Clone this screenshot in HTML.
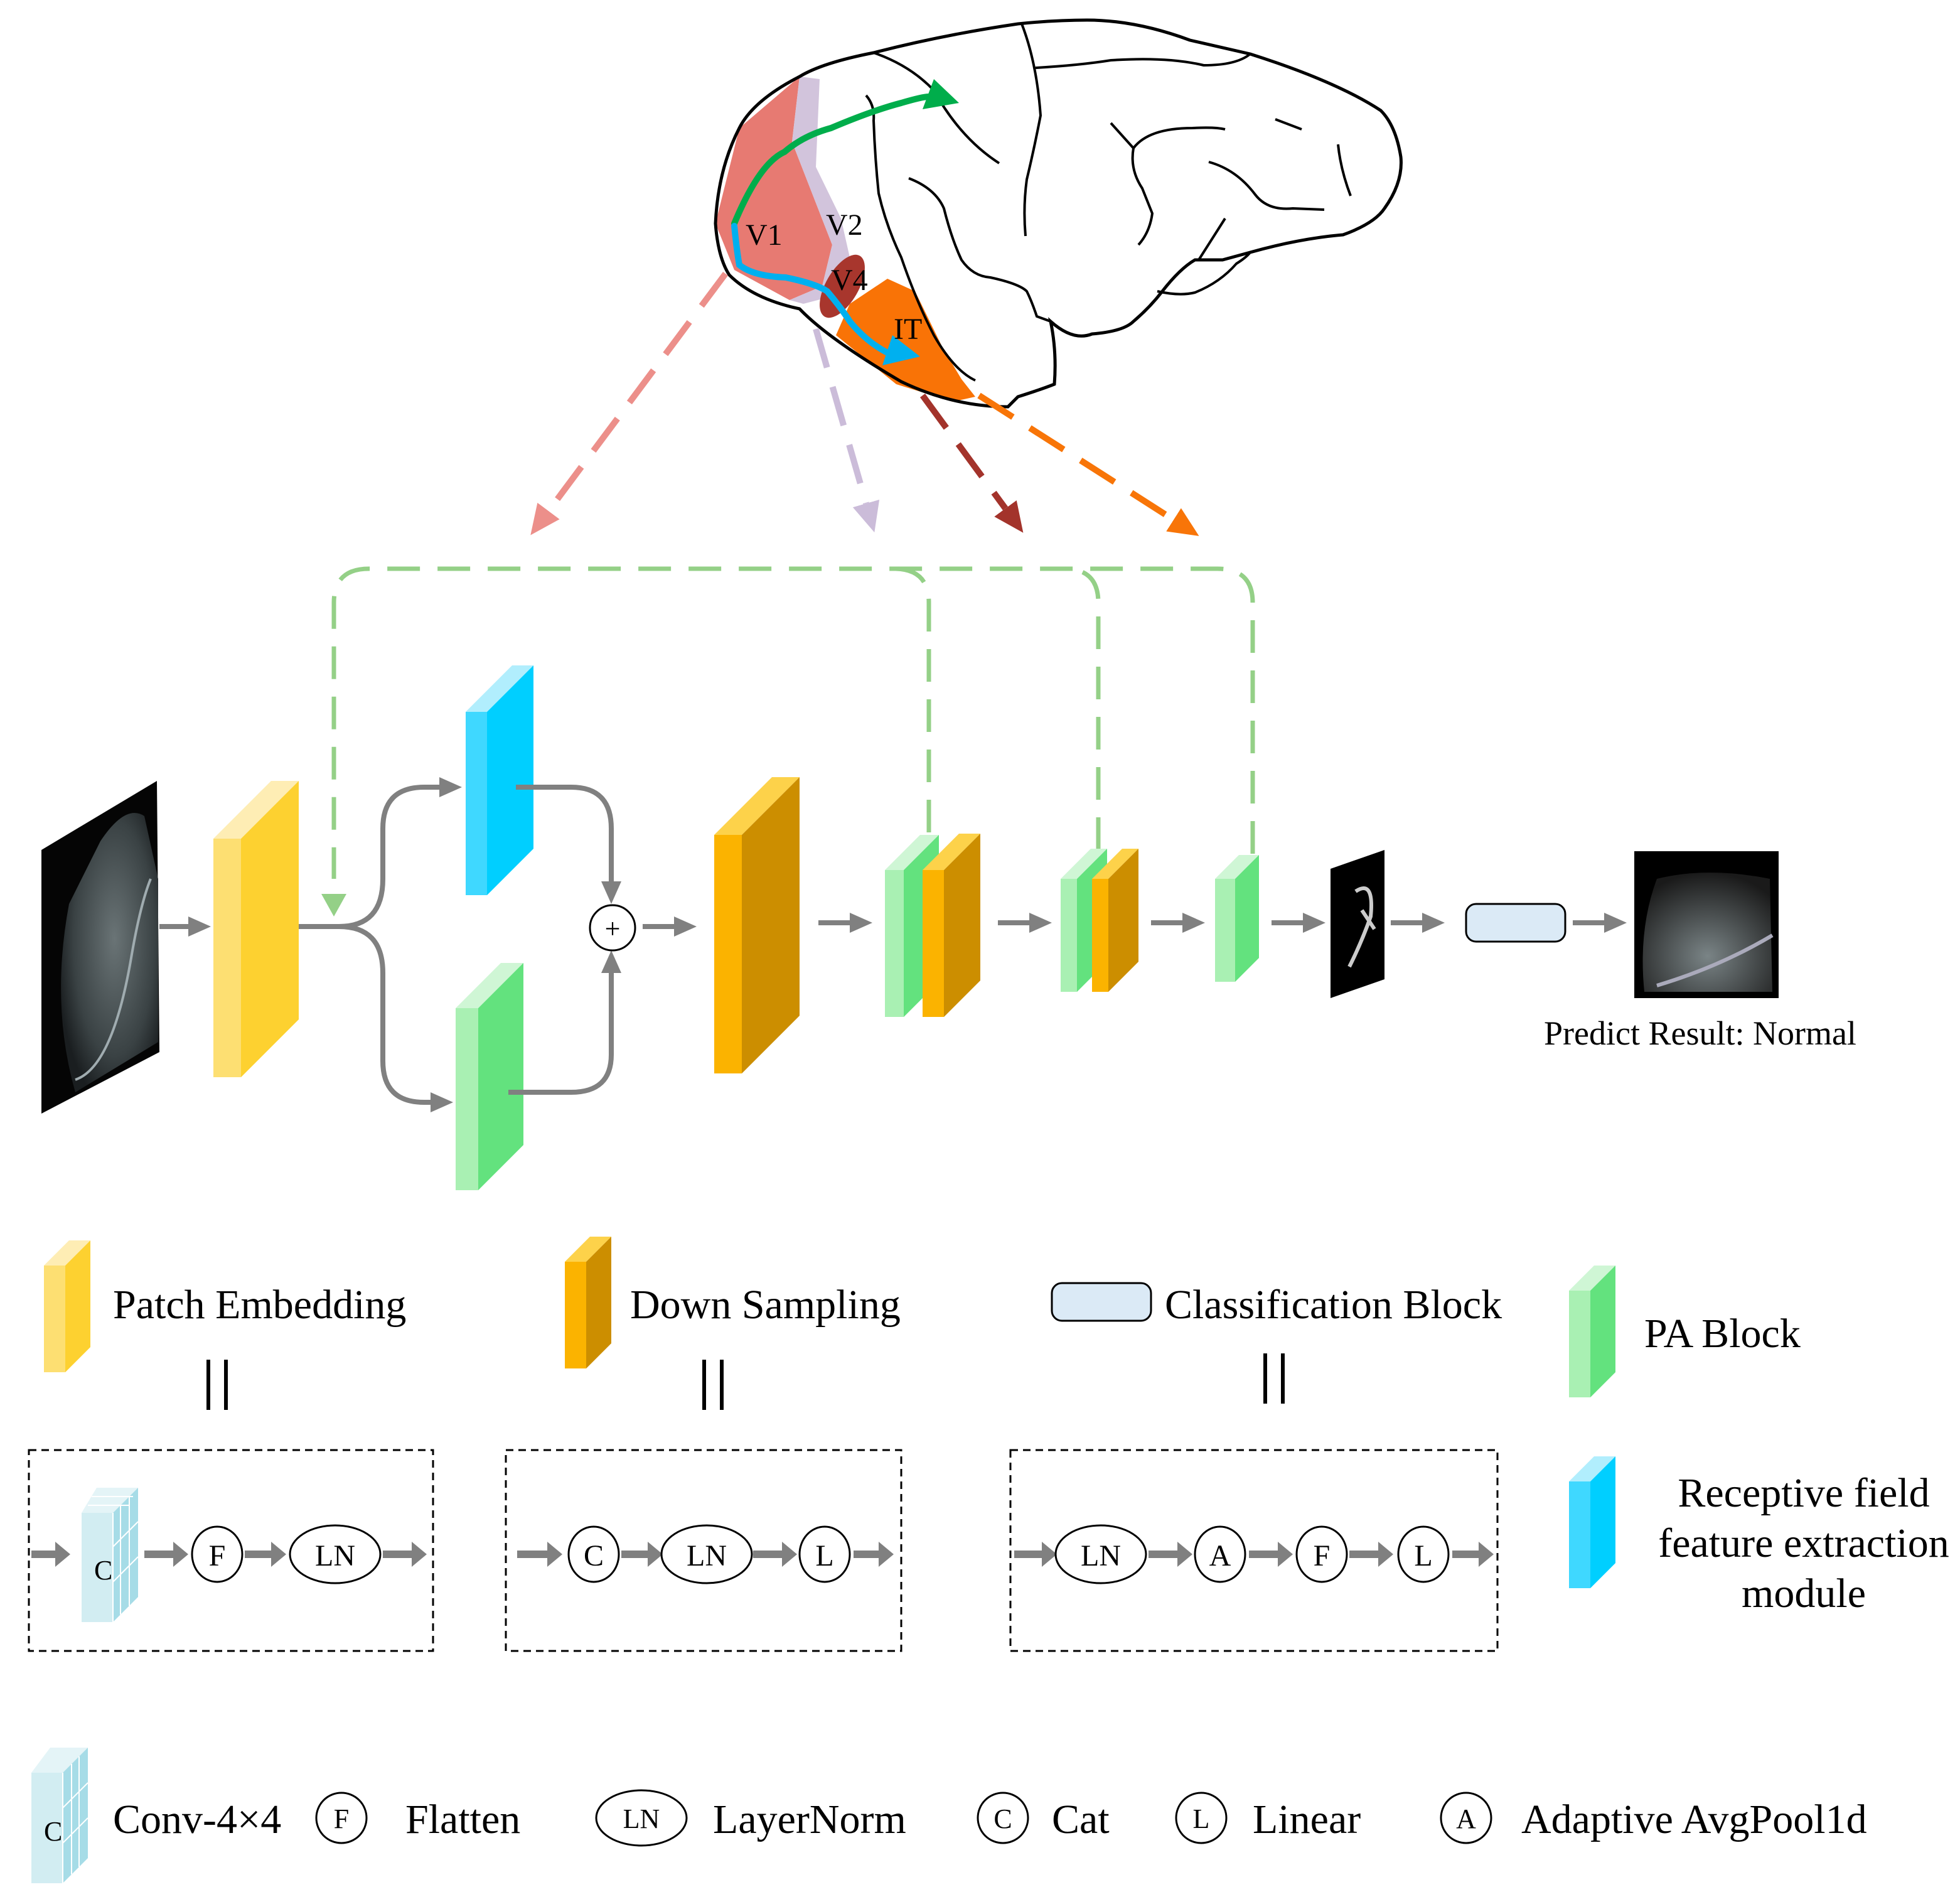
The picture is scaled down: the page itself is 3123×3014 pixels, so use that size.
<!DOCTYPE html>
<html><head><meta charset="utf-8"><style>html,body{margin:0;padding:0;background:#fff}svg{display:block}text{font-family:"Liberation Serif",serif;fill:#000}</style></head>
<body>
<svg width="3123" height="3014" viewBox="0 0 1561.5 1507" xmlns="http://www.w3.org/2000/svg">
<defs>
<marker id="ah" markerUnits="userSpaceOnUse" markerWidth="20" markerHeight="20" refX="0" refY="8" orient="auto"><path d="M0,0 L18,8 L0,16 z" fill="#808080"/></marker>
<marker id="fa" markerUnits="userSpaceOnUse" markerWidth="20" markerHeight="24" refX="0" refY="10" orient="auto"><path d="M0,0 L12,10 L0,20 z" fill="#808080"/></marker>
<marker id="pk" markerUnits="userSpaceOnUse" markerWidth="30" markerHeight="30" refX="0" refY="11" orient="auto"><path d="M0,0 L24,11 L0,22 z" fill="#ec8f8a"/></marker>
<marker id="lv" markerUnits="userSpaceOnUse" markerWidth="30" markerHeight="30" refX="0" refY="11" orient="auto"><path d="M0,0 L24,11 L0,22 z" fill="#cbbcd9"/></marker>
<marker id="dr" markerUnits="userSpaceOnUse" markerWidth="30" markerHeight="30" refX="0" refY="11" orient="auto"><path d="M0,0 L24,11 L0,22 z" fill="#a3332b"/></marker>
<marker id="or" markerUnits="userSpaceOnUse" markerWidth="30" markerHeight="30" refX="0" refY="11" orient="auto"><path d="M0,0 L24,11 L0,22 z" fill="#f87508"/></marker>
<radialGradient id="us" cx="0.55" cy="0.45" r="0.6"><stop offset="0" stop-color="#6a7476"/><stop offset="0.7" stop-color="#3a4244"/><stop offset="1" stop-color="#1a1e20"/></radialGradient>
<radialGradient id="us2" cx="0.5" cy="0.7" r="0.7"><stop offset="0" stop-color="#7a8486"/><stop offset="1" stop-color="#1a1a1a"/></radialGradient>
</defs>

<path d="M637,61 L631,113 L663,195 L655,228 L629,239 L585,215 L570,178 L589,102 Z" fill="#e77a72"/>
<path d="M637,61 L653,63 L650,133 L670,174 L677,205 L663,236 L640,242 L629,239 L655,228 L663,195 L631,113 Z" fill="#d2c4dc"/>
<ellipse cx="671" cy="228" rx="13" ry="28" transform="rotate(30 671 228)" fill="#a8362d"/>
<path d="M707,222 L729,232 L751,277 L766,302 L777,316 L759,320 L714,306 L666,267 L677,242 Z" fill="#f97306"/>
<path d="M570,178 Q572,205 581,219 Q600,238 637,246 Q660,270 718,304 Q760,324 803,324 L811,316 Q830,310 840,306 Q842,280 837,256 Q855,272 870,266 Q895,264 903,256 Q916,245 926,232 Q940,214 952,207 L974,207 L996,201 Q1035,190 1070,187 Q1095,178 1103,166 Q1118,145 1116,125 Q1112,100 1100,88 Q1065,65 996,43 L948,32 Q905,16 866,16 Q840,16 811,19 Q750,28 696,42 Q655,50 637,61 Q600,80 589,102 Q572,135 570,178 Z" fill="none" stroke="#000" stroke-width="2.5"/>
<g fill="none" stroke="#000" stroke-width="2">
<path d="M696,42 Q725,52 744,72 Q765,110 796,130"/>
<path d="M690,76 Q697,84 696,96 Q697,125 700,154 Q706,180 718,205 Q730,240 744,267 Q760,295 777,303"/>
<path d="M724,142 Q745,150 752,166 Q758,190 766,207 Q775,220 789,221 Q812,226 818,232 Q822,240 826,252 L837,256"/>
<path d="M814,19 Q826,50 829,92 Q824,118 818,143 Q815,165 817,188"/>
<path d="M825,54 Q860,52 885,48 Q930,45 959,52 Q985,52 996,43"/>
<path d="M885,98 L903,118 Q900,135 910,150 Q918,170 918,170 Q916,185 907,195"/>
<path d="M903,118 Q915,102 950,102 Q968,101 976,103"/>
<path d="M1016,95 L1037,103"/>
<path d="M1066,115 Q1068,135 1076,156"/>
<path d="M963,129 Q985,135 1000,155 Q1010,168 1030,166 L1055,167"/>
<path d="M976,174 L955,207"/>
<path d="M922,232 Q940,236 952,233 Q972,225 985,210 Q993,205 996,201"/>
</g>
<path d="M585,178 Q605,130 625,121 Q640,108 662,102 Q695,88 718,82 Q735,77 740,77" fill="none" stroke="#00ad4b" stroke-width="5" stroke-linecap="round"/>
<path d="M764,82 L744,63 L735,87 Z" fill="#00ad4b"/>
<path d="M585,180 Q587,200 589,211 Q600,220 626,221 Q650,226 659,232 Q670,245 677,256 Q690,272 707,281" fill="none" stroke="#00b0ef" stroke-width="5" stroke-linecap="round"/>
<path d="M733,284 L711,267 L703,291 Z" fill="#00b0ef"/>
<text x="594" y="195" font-size="24">V1</text>
<text x="658" y="187" font-size="24">V2</text>
<text x="662" y="231" font-size="24">V4</text>
<text x="712" y="270" font-size="24">IT</text>

<line x1="578" y1="218" x2="437" y2="407" stroke="#ec8f8a" stroke-width="5" stroke-dasharray="32,16" marker-end="url(#pk)"/>
<line x1="650" y1="262" x2="690" y2="401" stroke="#cbbcd9" stroke-width="5" stroke-dasharray="32,16" marker-end="url(#lv)"/>
<line x1="735" y1="315" x2="801" y2="405" stroke="#a3332b" stroke-width="5" stroke-dasharray="32,16" marker-end="url(#dr)"/>
<line x1="780" y1="315" x2="935" y2="414" stroke="#f87508" stroke-width="5" stroke-dasharray="32,16" marker-end="url(#or)"/>

<g fill="none" stroke="#94d087" stroke-width="3.5" stroke-dasharray="26,14">
<path d="M998,680 V480 Q998,453 970,453 H294 Q266,453 266,480 V700"/>
<path d="M740,663 V480 Q740,453 712,453"/>
<path d="M875,677 V480 Q875,453 848,453"/>
</g>
<path d="M256,712 L276,712 L266,730 Z" fill="#94d087"/>

<polygon points="33,677 125,622 127,838 33,887" fill="#050505"/>
<path d="M80,670 Q100,640 115,650 L126,700 L126,830 L60,870 Q40,800 55,720 Z" fill="url(#us)"/>
<path d="M60,860 Q90,850 105,760 Q112,720 120,700" stroke="#a0acb0" stroke-width="2" fill="none"/>

<g>
<rect x="170" y="668" width="22" height="190" fill="#fddf72"/><polygon points="170,668 216,622 238,622 192,668" fill="#feedb4"/><polygon points="192,668 238,622 238,812 192,858" fill="#fdd130"/>
<rect x="371" y="567" width="17" height="146" fill="#3fd8ff"/><polygon points="371,567 408,530 425,530 388,567" fill="#b1eefd"/><polygon points="388,567 425,530 425,676 388,713" fill="#00cfff"/>
<rect x="363" y="803" width="18" height="145" fill="#a9f0b3"/><polygon points="363,803 399,767 417,767 381,803" fill="#cff6d5"/><polygon points="381,803 417,767 417,912 381,948" fill="#63e27e"/>
<rect x="569" y="665" width="22" height="190" fill="#fbb300"/><polygon points="569,665 615,619 637,619 591,665" fill="#fdd24a"/><polygon points="591,665 637,619 637,809 591,855" fill="#cc8e00"/>
<rect x="705" y="693" width="15" height="117" fill="#a9f0b3"/><polygon points="705,693 733,665 748,665 720,693" fill="#cff6d5"/><polygon points="720,693 748,665 748,782 720,810" fill="#63e27e"/>
<rect x="735" y="693" width="17" height="117" fill="#fbb300"/><polygon points="735,693 764,664 781,664 752,693" fill="#fdd24a"/><polygon points="752,693 781,664 781,781 752,810" fill="#cc8e00"/>
<rect x="845" y="700" width="13" height="90" fill="#a9f0b3"/><polygon points="845,700 869,676 882,676 858,700" fill="#cff6d5"/><polygon points="858,700 882,676 882,766 858,790" fill="#63e27e"/>
<rect x="870" y="700" width="13" height="90" fill="#fbb300"/><polygon points="870,700 894,676 907,676 883,700" fill="#fdd24a"/><polygon points="883,700 907,676 907,766 883,790" fill="#cc8e00"/>
<rect x="968" y="700" width="16" height="82" fill="#a9f0b3"/><polygon points="968,700 987,681 1003,681 984,700" fill="#cff6d5"/><polygon points="984,700 1003,681 1003,763 984,782" fill="#63e27e"/>
</g>
<polygon points="1060,692 1103,677 1103,780 1060,795" fill="#000"/>
<path d="M1080,710 Q1095,700 1092,730 Q1085,750 1075,770 M1085,725 L1095,740" stroke="#ccc" stroke-width="3" fill="none"/>
<rect x="1168" y="720" width="79" height="30" rx="8" fill="#dbeaf6" stroke="#000" stroke-width="1.5"/>
<rect x="1302" y="678" width="115" height="117" fill="#000"/>
<path d="M1320,700 Q1360,690 1410,700 L1412,790 L1310,790 Q1305,740 1320,700 Z" fill="url(#us2)"/>
<path d="M1320,785 Q1370,770 1412,745" stroke="#aab" stroke-width="3" fill="none"/>
<text x="1230" y="832" font-size="27">Predict Result: Normal</text>

<g stroke="#808080" stroke-width="4" fill="none">
<line x1="127" y1="738" x2="150" y2="738" marker-end="url(#ah)"/>
<path d="M238,738 H270 Q305,738 305,700 V660 Q305,627 338,627 H350" marker-end="url(#ah)"/>
<path d="M270,738 Q305,738 305,775 V845 Q305,878 338,878 H343" marker-end="url(#ah)"/>
<path d="M411,627 H455 Q487,627 487,660 V702" marker-end="url(#ah)"/>
<path d="M405,870 H455 Q487,870 487,840 V775" marker-end="url(#ah)"/>
<line x1="512" y1="738" x2="537" y2="738" marker-end="url(#ah)"/>
<line x1="652" y1="735" x2="677" y2="735" marker-end="url(#ah)"/>
<line x1="795" y1="735" x2="820" y2="735" marker-end="url(#ah)"/>
<line x1="917" y1="735" x2="942" y2="735" marker-end="url(#ah)"/>
<line x1="1013" y1="735" x2="1038" y2="735" marker-end="url(#ah)"/>
<line x1="1108" y1="735" x2="1133" y2="735" marker-end="url(#ah)"/>
<line x1="1253" y1="735" x2="1278" y2="735" marker-end="url(#ah)"/>
</g>
<circle cx="488" cy="739" r="18" fill="#fff" stroke="#000" stroke-width="1.5"/>
<text x="488" y="747" font-size="22" text-anchor="middle">+</text>

<rect x="35" y="1008" width="17" height="85" fill="#fddf72"/><polygon points="35,1008 55,988 72,988 52,1008" fill="#feedb4"/><polygon points="52,1008 72,988 72,1073 52,1093" fill="#fdd130"/>
<text x="90" y="1050" font-size="33">Patch Embedding</text>
<rect x="450" y="1005" width="17" height="85" fill="#fbb300"/><polygon points="450,1005 470,985 487,985 467,1005" fill="#fdd24a"/><polygon points="467,1005 487,985 487,1070 467,1090" fill="#cc8e00"/>
<text x="502" y="1050" font-size="33">Down Sampling</text>
<rect x="838" y="1022" width="79" height="30" rx="8" fill="#dbeaf6" stroke="#000" stroke-width="1.5"/>
<text x="928" y="1050" font-size="33">Classification Block</text>
<rect x="1250" y="1028" width="17" height="85" fill="#a9f0b3"/><polygon points="1250,1028 1270,1008 1287,1008 1267,1028" fill="#cff6d5"/><polygon points="1267,1028 1287,1008 1287,1093 1267,1113" fill="#63e27e"/>
<text x="1310" y="1073" font-size="33">PA Block</text>
<rect x="1250" y="1180" width="17" height="85" fill="#3fd8ff"/><polygon points="1250,1180 1270,1160 1287,1160 1267,1180" fill="#b1eefd"/><polygon points="1267,1180 1287,1160 1287,1245 1267,1265" fill="#00cfff"/>
<g font-size="33" text-anchor="middle"><text x="1437" y="1200">Receptive field</text><text x="1437" y="1240">feature extraction</text><text x="1437" y="1280">module</text></g>
<g stroke="#000" stroke-width="3"><line x1="166" y1="1083" x2="166" y2="1123"/><line x1="180" y1="1083" x2="180" y2="1123"/><line x1="561" y1="1083" x2="561" y2="1123"/><line x1="575" y1="1083" x2="575" y2="1123"/><line x1="1008" y1="1078" x2="1008" y2="1118"/><line x1="1022" y1="1078" x2="1022" y2="1118"/></g>

<g fill="none" stroke="#000" stroke-width="1.5" stroke-dasharray="6,4">
<rect x="23" y="1155" width="322" height="160"/><rect x="403" y="1155" width="315" height="160"/><rect x="805" y="1155" width="388" height="160"/>
</g>
<g>
<rect x="65" y="1205" width="25" height="87" fill="#d2edf2"/><polygon points="65,1205 77,1185 110,1185 90,1205" fill="#e4f4f7"/><polygon points="90,1205 110,1185 110,1272 90,1292" fill="#a6dce7"/>
<g stroke="#fff" stroke-width="1"><line x1="90" y1="1205" x2="90" y2="1292"/><line x1="96" y1="1199" x2="96" y2="1286"/><line x1="103" y1="1192" x2="103" y2="1279"/><line x1="90" y1="1232" x2="110" y2="1212"/><line x1="90" y1="1260" x2="110" y2="1240"/><line x1="70" y1="1199" x2="103" y2="1199"/><line x1="73" y1="1192" x2="106" y2="1192"/></g>
<text x="75" y="1258" font-size="22">C</text>
</g>
<g stroke="#808080" stroke-width="6">
<line x1="25" y1="1238" x2="44" y2="1238" marker-end="url(#fa)"/>
<line x1="115" y1="1238" x2="138" y2="1238" marker-end="url(#fa)"/>
<line x1="195" y1="1238" x2="216" y2="1238" marker-end="url(#fa)"/>
<line x1="305" y1="1238" x2="328" y2="1238" marker-end="url(#fa)"/>
<line x1="412" y1="1238" x2="436" y2="1238" marker-end="url(#fa)"/>
<line x1="495" y1="1238" x2="516" y2="1238" marker-end="url(#fa)"/>
<line x1="600" y1="1238" x2="623" y2="1238" marker-end="url(#fa)"/>
<line x1="680" y1="1238" x2="700" y2="1238" marker-end="url(#fa)"/>
<line x1="808" y1="1238" x2="830" y2="1238" marker-end="url(#fa)"/>
<line x1="915" y1="1238" x2="938" y2="1238" marker-end="url(#fa)"/>
<line x1="995" y1="1238" x2="1018" y2="1238" marker-end="url(#fa)"/>
<line x1="1075" y1="1238" x2="1098" y2="1238" marker-end="url(#fa)"/>
<line x1="1157" y1="1238" x2="1178" y2="1238" marker-end="url(#fa)"/>
</g>
<g fill="#fff" stroke="#000" stroke-width="1.5">
<ellipse cx="173" cy="1238" rx="20" ry="22"/><ellipse cx="267" cy="1238" rx="36" ry="23"/>
<ellipse cx="473" cy="1238" rx="20" ry="22"/><ellipse cx="563" cy="1238" rx="36" ry="23"/><ellipse cx="657" cy="1238" rx="20" ry="22"/>
<ellipse cx="877" cy="1238" rx="36" ry="23"/><ellipse cx="972" cy="1238" rx="20" ry="22"/><ellipse cx="1053" cy="1238" rx="20" ry="22"/><ellipse cx="1134" cy="1238" rx="20" ry="22"/>
</g>
<g font-size="24" text-anchor="middle">
<text x="173" y="1247">F</text><text x="267" y="1247">LN</text>
<text x="473" y="1247">C</text><text x="563" y="1247">LN</text><text x="657" y="1247">L</text>
<text x="877" y="1247">LN</text><text x="972" y="1247">A</text><text x="1053" y="1247">F</text><text x="1134" y="1247">L</text>
</g>

<g>
<rect x="25" y="1412" width="25" height="88" fill="#d2edf2"/><polygon points="25,1412 40,1392 70,1392 50,1412" fill="#e4f4f7"/><polygon points="50,1412 70,1392 70,1480 50,1500" fill="#a6dce7"/>
<g stroke="#fff" stroke-width="1"><line x1="50" y1="1412" x2="50" y2="1500"/><line x1="57" y1="1405" x2="57" y2="1493"/><line x1="63" y1="1399" x2="63" y2="1487"/><line x1="50" y1="1440" x2="70" y2="1420"/><line x1="50" y1="1468" x2="70" y2="1448"/></g>
<text x="35" y="1466" font-size="22">C</text>
</g>
<g fill="#fff" stroke="#000" stroke-width="1.5">
<ellipse cx="272" cy="1448" rx="20" ry="20"/><ellipse cx="511" cy="1448" rx="36" ry="22"/><ellipse cx="799" cy="1448" rx="20" ry="20"/><ellipse cx="957" cy="1448" rx="20" ry="20"/><ellipse cx="1168" cy="1448" rx="20" ry="20"/>
</g>
<g font-size="22" text-anchor="middle"><text x="272" y="1456">F</text><text x="511" y="1456">LN</text><text x="799" y="1456">C</text><text x="957" y="1456">L</text><text x="1168" y="1456">A</text></g>
<g font-size="33">
<text x="90" y="1460">Conv-4×4</text><text x="323" y="1460">Flatten</text><text x="568" y="1460">LayerNorm</text><text x="838" y="1460">Cat</text><text x="998" y="1460">Linear</text><text x="1212" y="1460">Adaptive AvgPool1d</text>
</g>
</svg>
</body></html>
